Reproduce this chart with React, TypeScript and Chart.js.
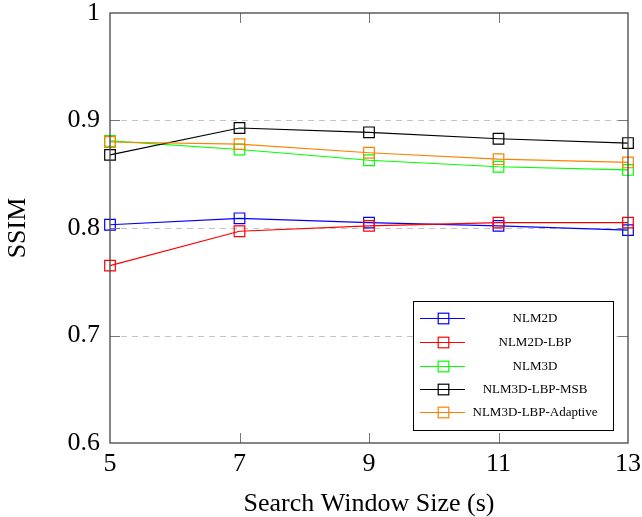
import React, { useEffect, useRef } from "react";
import { Chart, registerables } from "chart.js";

Chart.register(...registerables);

const windowSizes = [5, 7, 9, 11, 13];
const nlm2d = [0.803, 0.809, 0.805, 0.802, 0.798];
const nlm2dLbp = [0.765, 0.797, 0.802, 0.805, 0.805];
const nlm3d = [0.881, 0.873, 0.863, 0.857, 0.854];
const nlm3dLbpMsb = [0.868, 0.893, 0.889, 0.883, 0.879];
const nlm3dLbpAdaptive = [0.880, 0.878, 0.870, 0.864, 0.861];

const seriesNames = ["NLM2D", "NLM2D-LBP", "NLM3D", "NLM3D-LBP-MSB", "NLM3D-LBP-Adaptive"];
const seriesValues = [nlm2d, nlm2dLbp, nlm3d, nlm3dLbpMsb, nlm3dLbpAdaptive];
const seriesColors = ["#0000ff", "#ff0000", "#00ff00", "#000000", "#ff8000"];

const xTitle = "Search Window Size (s)";
const yTitle = "SSIM";

const SERIF = "'Liberation Serif', 'Times New Roman', serif";

const frameAndGrid = {
  id: "frameAndGrid",
  beforeDatasetsDraw(chart: any) {
    const { ctx, chartArea: a, scales } = chart;
    const y = scales.y;
    ctx.save();
    ctx.strokeStyle = "#c4c4c4";
    ctx.lineWidth = 1;
    ctx.setLineDash([6, 5]);
    for (const t of y.ticks) {
      if (t.value <= y.min + 1e-9 || t.value >= y.max - 1e-9) continue;
      const py = Math.round(y.getPixelForValue(t.value)) + 0.5;
      ctx.beginPath();
      ctx.moveTo(a.left, py);
      ctx.lineTo(a.right, py);
      ctx.stroke();
    }
    ctx.restore();
  },
  afterDatasetsDraw(chart: any) {
    const { ctx, chartArea: a, scales } = chart;
    const x = scales.x;
    const y = scales.y;
    ctx.save();
    ctx.setLineDash([]);
    ctx.strokeStyle = "#777777";
    ctx.lineWidth = 1;
    const tl = 10;
    for (const t of y.ticks) {
      if (t.value <= y.min + 1e-9 || t.value >= y.max - 1e-9) continue;
      const py = Math.round(y.getPixelForValue(t.value)) + 0.5;
      ctx.beginPath();
      ctx.moveTo(a.left, py);
      ctx.lineTo(a.left + tl, py);
      ctx.moveTo(a.right, py);
      ctx.lineTo(a.right - tl, py);
      ctx.stroke();
    }
    for (const t of x.ticks) {
      if (t.value <= x.min + 1e-9 || t.value >= x.max - 1e-9) continue;
      const px = Math.round(x.getPixelForValue(t.value)) + 0.5;
      ctx.beginPath();
      ctx.moveTo(px, a.bottom);
      ctx.lineTo(px, a.bottom - tl);
      ctx.moveTo(px, a.top);
      ctx.lineTo(px, a.top + tl);
      ctx.stroke();
    }
    ctx.strokeStyle = "#444444";
    ctx.lineWidth = 1.3;
    ctx.strokeRect(a.left, a.top, a.right - a.left, a.bottom - a.top);
    ctx.restore();
  },
};

const boxLegend = {
  id: "boxLegend",
  afterDraw(chart: any) {
    const { ctx } = chart;
    const bx = 413, by = 301, bw = 200, bh = 129;
    ctx.save();
    ctx.fillStyle = "#ffffff";
    ctx.fillRect(bx, by, bw, bh);
    ctx.strokeStyle = "#000000";
    ctx.lineWidth = 1;
    ctx.strokeRect(bx + 0.5, by + 0.5, bw, bh);
    const rowY = [318, 342, 366, 389, 412];
    ctx.font = "13px " + SERIF;
    ctx.textAlign = "center";
    ctx.textBaseline = "middle";
    seriesNames.forEach((name, i) => {
      const yy = rowY[i] + 0.5;
      ctx.strokeStyle = seriesColors[i];
      ctx.lineWidth = 1.2;
      ctx.beginPath();
      ctx.moveTo(420, yy);
      ctx.lineTo(465, yy);
      ctx.stroke();
      ctx.strokeRect(443.5 - 5.3, yy - 5.3, 10.6, 10.6);
      ctx.fillStyle = "#000000";
      ctx.fillText(name, 535, yy);
    });
    ctx.restore();
  },
};

export default function App() {
  const ref = useRef<HTMLCanvasElement>(null);
  useEffect(() => {
    if (!ref.current) return;
    const chart = new Chart(ref.current, {
      type: "line",
      data: {
        datasets: seriesNames.map((name, i) => ({
          label: name,
          data: windowSizes.map((xv, j) => ({ x: xv, y: seriesValues[i][j] })),
          borderColor: seriesColors[i],
          backgroundColor: "transparent",
          borderWidth: 1.2,
          pointStyle: "rect",
          pointRadius: 7.5,
          pointBorderWidth: 1.2,
          pointBackgroundColor: "transparent",
          pointBorderColor: seriesColors[i],
          tension: 0,
          clip: false as any,
          order: seriesNames.length - i,
        })),
      },
      options: {
        animation: false,
        responsive: true,
        maintainAspectRatio: false,
        layout: { padding: { top: 13, right: 14, left: 0, bottom: 0 } },
        plugins: { legend: { display: false }, tooltip: { enabled: false } },
        scales: {
          x: {
            type: "linear",
            min: 5,
            max: 13,
            afterFit: (s: any) => {
              s.height = 74;
              s.paddingLeft = 0;
              s.paddingRight = 0;
            },
            ticks: {
              stepSize: 2,
              color: "#000",
              padding: 8,
              font: { family: SERIF, size: 26, lineHeight: 1 },
              maxRotation: 0,
            },
            grid: { display: false, drawTicks: false },
            border: { display: false },
            title: {
              display: true,
              text: xTitle,
              color: "#000",
              font: { family: SERIF, size: 26, lineHeight: 1 },
              padding: { top: 0, bottom: 0 },
            },
          },
          y: {
            type: "linear",
            min: 0.6,
            max: 1,
            afterFit: (s: any) => {
              s.width = 110;
              s.paddingTop = 0;
              s.paddingBottom = 0;
            },
            ticks: {
              stepSize: 0.1,
              color: "#000",
              padding: 10,
              font: { family: SERIF, size: 26, lineHeight: 1 },
              callback: (v: any) => String(Number(Number(v).toFixed(1))),
            },
            grid: { display: false, drawTicks: false },
            border: { display: false },
            title: {
              display: true,
              text: yTitle,
              color: "#000",
              font: { family: SERIF, size: 26, lineHeight: 1 },
              padding: { top: 5, bottom: 0 },
            },
          },
        },
      },
      plugins: [frameAndGrid, boxLegend],
    });
    return () => chart.destroy();
  }, []);
  return (
    <div style={{ position: "absolute", left: 0, top: 0, width: 642, height: 517 }}>
      <canvas ref={ref} />
    </div>
  );
}
